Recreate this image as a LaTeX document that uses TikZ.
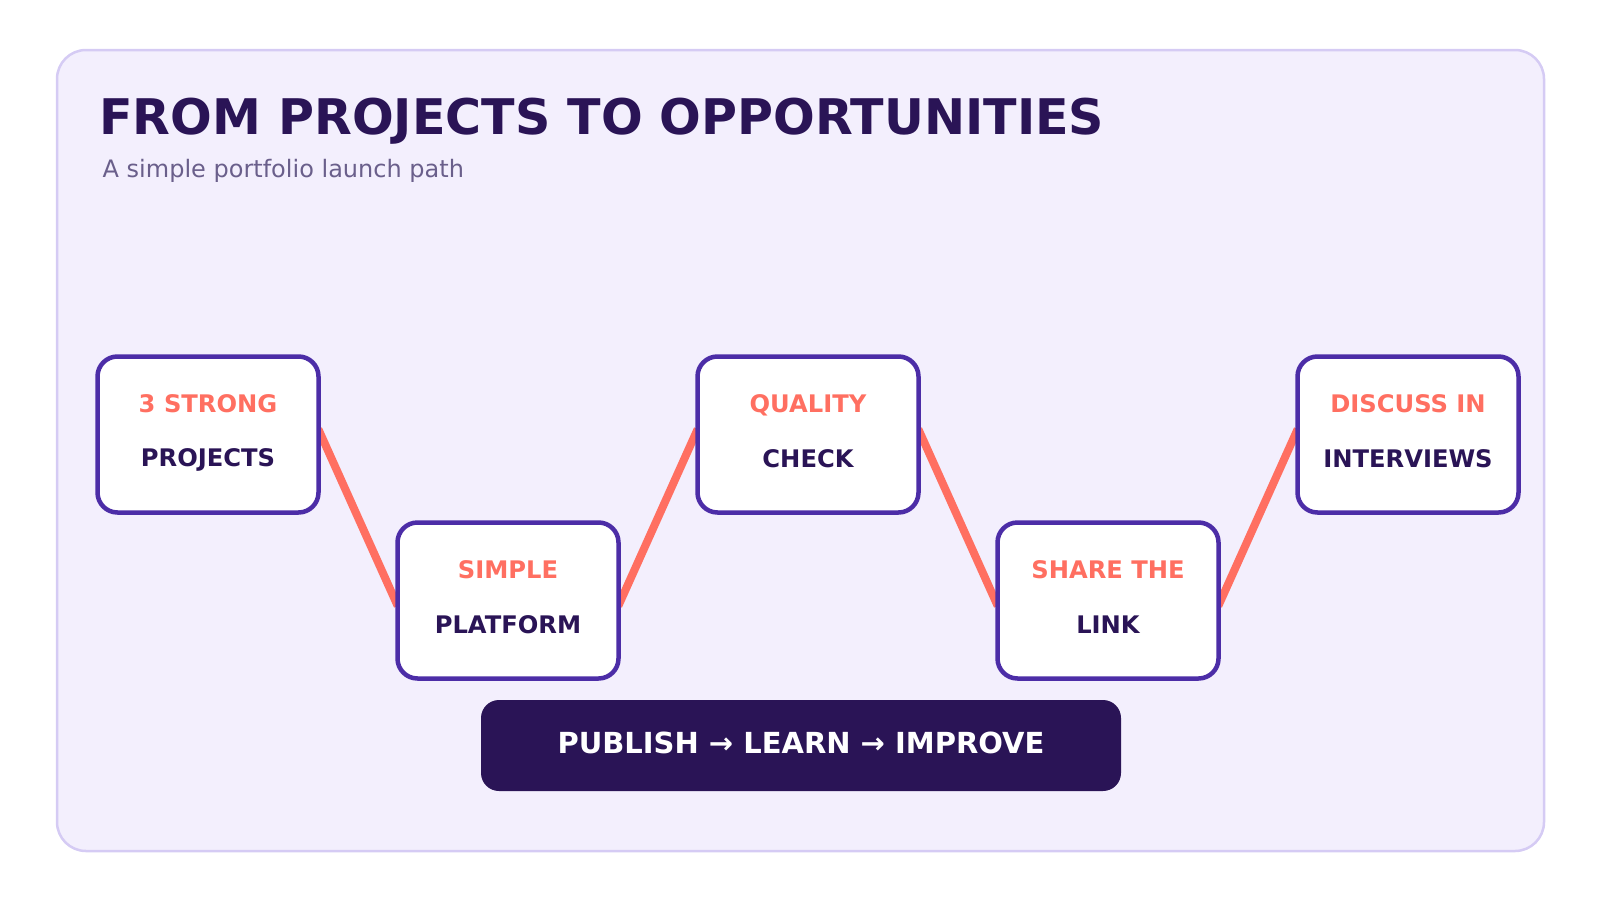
\documentclass[tikz,border=0pt]{standalone}
\usepackage{fontspec}
\setmainfont{DejaVu Sans}
\usetikzlibrary{backgrounds}

\definecolor{panelfill}{HTML}{F3EFFD}
\definecolor{panelline}{HTML}{D5CBF4}
\definecolor{ink}{HTML}{2A1456}
\definecolor{boxline}{HTML}{4C2DA7}
\definecolor{coral}{HTML}{FF6F61}
\definecolor{muted}{HTML}{6A5F8B}

\tikzset{
  stepbox/.style={draw=boxline,line width=4.5pt,fill=white,rounded corners=20pt,
    minimum width=221pt,minimum height=156pt,inner sep=0pt},
  upper/.style={anchor=base,inner sep=0pt,text=coral,font=\bfseries\fontsize{24.2}{29}\selectfont},
  lower/.style={anchor=base,inner sep=0pt,text=ink,font=\bfseries\fontsize{24.2}{29}\selectfont},
  link/.style={coral,line width=8pt,shorten <=-6pt,shorten >=-6pt}
}

\begin{document}
\begin{tikzpicture}[x=1pt,y=-1pt]
  \useasboundingbox (0,0) rectangle (1600,900);

  % panel and heading
  \begin{scope}[on background layer]
    \node[draw=panelline,line width=2.5pt,fill=panelfill,rounded corners=29pt,
      minimum width=1487pt,minimum height=801pt] (panel) at (800.5,450.5) {};
  \end{scope}
  \node[anchor=base west,inner sep=0pt,text=ink,font=\bfseries\fontsize{49.1}{59}\selectfont]
    (title) at (99,134) {FROM PROJECTS TO OPPORTUNITIES};
  \node[anchor=base west,inner sep=0pt,text=muted,font=\fontsize{24}{29}\selectfont]
    (subtitle) at (102.5,177) {A simple portfolio launch path};

  % steps
  \node[stepbox] (b1) at (208,434.5) {};
  \node[upper] (b1top) at (208,412) {3 STRONG};
  \node[lower] (b1bot) at (208,466) {PROJECTS};

  \node[stepbox] (b2) at (508,600.5) {};
  \node[upper] (b2top) at (508,578) {SIMPLE};
  \node[lower] (b2bot) at (508,633) {PLATFORM};

  \node[stepbox] (b3) at (808,434.5) {};
  \node[upper] (b3top) at (808,412) {QUALITY};
  \node[lower] (b3bot) at (808,467.5) {CHECK};

  \node[stepbox] (b4) at (1108,600.5) {};
  \node[upper] (b4top) at (1108,578) {SHARE THE};
  \node[lower] (b4bot) at (1108,633) {LINK};

  \node[stepbox] (b5) at (1408,434.5) {};
  \node[upper] (b5top) at (1408,412) {DISCUSS IN};
  \node[lower] (b5bot) at (1408,467.5) {INTERVIEWS};

  \begin{scope}[on background layer]
    \draw[link] (b1.east) -- (b2.west);
    \draw[link] (b2.east) -- (b3.west);
    \draw[link] (b3.east) -- (b4.west);
    \draw[link] (b4.east) -- (b5.west);
  \end{scope}

  \node[fill=ink,rounded corners=18pt,minimum width=640pt,minimum height=91pt,
    text=white,font=\bfseries\fontsize{29}{35}\selectfont,text height=22pt,text depth=7pt]
    (cycle) at (801,745.5) {PUBLISH → LEARN → IMPROVE};

\end{tikzpicture}
\end{document}
